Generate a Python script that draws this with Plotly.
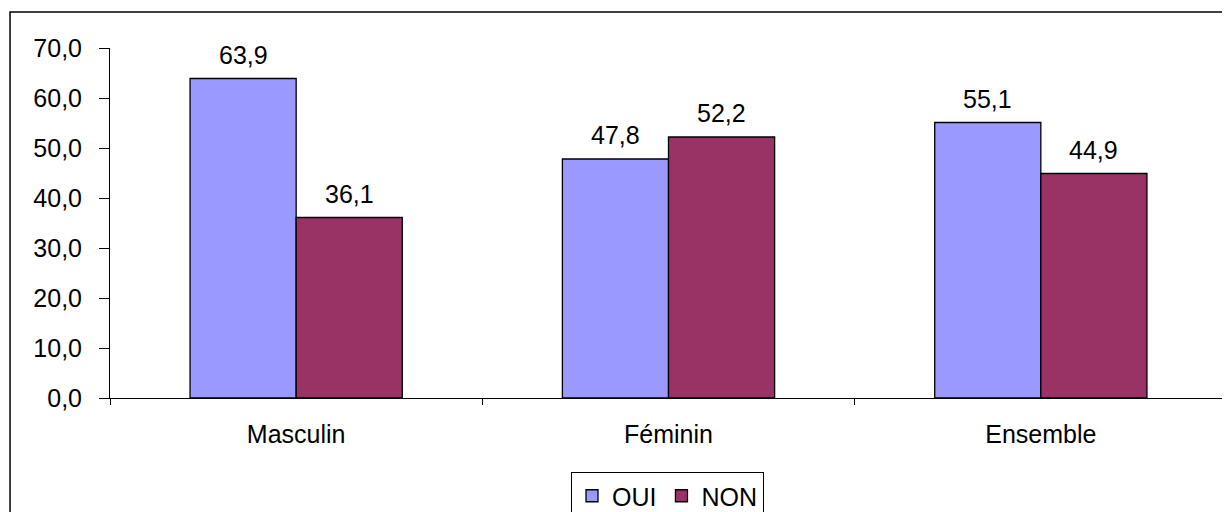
import plotly.graph_objects as go

CATEGORIES = ["Masculin", "Féminin", "Ensemble"]
OUI = [63.9, 47.8, 55.1]
NON = [36.1, 52.2, 44.9]
Y_TICKS = [0, 10, 20, 30, 40, 50, 60, 70]

FONT = dict(family="Liberation Sans, Arial, sans-serif", size=25, color="black")
BARGAP = 0.43
HALF = (1 - BARGAP) / 4  # centre offset of each bar inside its group

fig = go.Figure()
fig.add_trace(go.Bar(
    x=CATEGORIES, y=OUI, name="OUI",
    marker=dict(color="#9999FF", line=dict(color="black", width=1.3))))
fig.add_trace(go.Bar(
    x=CATEGORIES, y=NON, name="NON",
    marker=dict(color="#993366", line=dict(color="black", width=1.3))))

# value labels above the bars
for series, off in ((OUI, -HALF), (NON, HALF)):
    for i, v in enumerate(series):
        fig.add_annotation(x=i + off, y=v, xref="x", yref="y",
                           text=f"{v:.1f}".replace(".", ","), showarrow=False,
                           yanchor="bottom", yshift=8, font=FONT)

# outer chart border (left/top visible, rest cropped)
fig.add_shape(type="rect", xref="paper", yref="paper",
              x0=-0.0895, x1=1.03, y0=-0.7, y1=1.103,
              line=dict(color="black", width=1.5), fillcolor="rgba(0,0,0,0)")

fig.update_layout(
    width=1230, height=512,
    margin=dict(l=102, r=11, t=40, b=122),
    plot_bgcolor="white", paper_bgcolor="white",
    font=FONT, separators=", ",
    barmode="group", bargap=BARGAP, bargroupgap=0,
    showlegend=True,
    legend=dict(orientation="h", xref="container", yref="container",
                x=(571 - 8) / 1230, xanchor="left", y=1 - (472 - 8) / 512, yanchor="top",
                bordercolor="black", borderwidth=1, font=FONT,
                itemwidth=30, tracegroupgap=0),
    xaxis=dict(range=[-0.5, 2.5], tickson="boundaries", ticks="outside",
               ticklen=6, tickcolor="black", showline=True, linecolor="black",
               linewidth=1, showgrid=False, tickfont=FONT, ticklabelstandoff=14,
               automargin=False),
    yaxis=dict(range=[0, 70], tickvals=Y_TICKS, tickformat=".1f",
               ticks="outside", ticklen=10, tickcolor="black", showline=True,
               linecolor="black", linewidth=1, showgrid=False, zeroline=False,
               tickfont=FONT, ticklabelstandoff=12, automargin=False),
)

fig.write_html("out.html")
